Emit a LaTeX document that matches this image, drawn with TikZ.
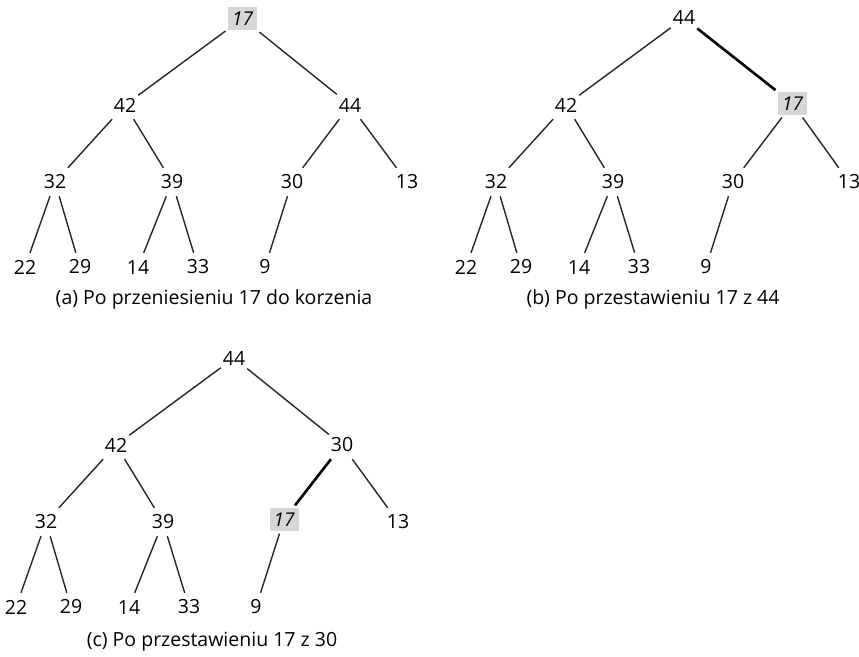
\documentclass[tikz,border=0pt]{standalone}
\usepackage{fontspec}
\setmainfont{Open Sans}
\begin{document}
\begin{tikzpicture}[x=1pt,y=-1pt,
  every node/.style={font=\fontsize{19.5}{23}\selectfont},
  nd/.style={inner sep=0pt, minimum width=26pt, minimum height=28pt},
  hl/.style={inner sep=0pt, minimum width=29pt, minimum height=23pt, fill=black!16, outer sep=2.5pt, font=\fontsize{19}{23}\selectfont\itshape},
  edge/.style={line width=1.4pt, black!85},
  hot/.style={line width=2.6pt, black},
  captxt/.style={inner sep=0pt}]
\useasboundingbox (0,0) rectangle (859,656);
\clip (0,0) rectangle (859,656);
% ---------- tree (a)
\begin{scope}
\node[hl] (ar) at (242.5,18.5) {17};
\node[nd] (aL) at (125,105) {42};
\node[nd] (aR) at (350,105) {44};
\node[nd] (aLL) at (55,182) {32};
\node[nd] (aLR) at (172,182) {39};
\node[nd] (aRL) at (292,182) {30};
\node[nd] (aRR) at (407,182) {13};
\node[nd] (aLLL) at (25,267) {22};
\node[nd] (aLLR) at (80,267) {29};
\node[nd] (aLRL) at (138,267) {14};
\node[nd] (aLRR) at (198,267) {33};
\node[nd] (aRLL) at (265,267) {9};
\draw[edge] (ar) -- (aL); \draw[edge] (ar) -- (aR);
\draw[edge] (aL) -- (aLL); \draw[edge] (aL) -- (aLR);
\draw[edge] (aR) -- (aRL); \draw[edge] (aR) -- (aRR);
\draw[edge] (aLL) -- (aLLL); \draw[edge] (aLL) -- (aLLR);
\draw[edge] (aLR) -- (aLRL); \draw[edge] (aLR) -- (aLRR);
\draw[edge] (aRL) -- (aRLL);
\node[captxt] (acap) at (214,299) {(a) Po przeniesieniu 17 do korzenia};
\end{scope}
% ---------- tree (b)
\begin{scope}[shift={(441,0)}]
\node[nd] (br) at (243,18) {44};
\node[nd] (bL) at (125,105) {42};
\node[hl] (bR) at (351.5,103.5) {17};
\node[nd] (bLL) at (55,182) {32};
\node[nd] (bLR) at (172,182) {39};
\node[nd] (bRL) at (292,182) {30};
\node[nd] (bRR) at (408,182) {13};
\node[nd] (bLLL) at (25,267) {22};
\node[nd] (bLLR) at (80,267) {29};
\node[nd] (bLRL) at (138,267) {14};
\node[nd] (bLRR) at (198,267) {33};
\node[nd] (bRLL) at (265,267) {9};
\draw[edge] (br) -- (bL); \draw[hot] (br) -- (bR);
\draw[edge] (bL) -- (bLL); \draw[edge] (bL) -- (bLR);
\draw[edge] (bR) -- (bRL); \draw[edge] (bR) -- (bRR);
\draw[edge] (bLL) -- (bLLL); \draw[edge] (bLL) -- (bLLR);
\draw[edge] (bLR) -- (bLRL); \draw[edge] (bLR) -- (bLRR);
\draw[edge] (bRL) -- (bRLL);
\node[captxt] (bcap) at (212,299) {(b) Po przestawieniu 17 z 44};
\end{scope}
% ---------- tree (c)
\begin{scope}[shift={(-9,340)}]
\node[nd] (cr) at (243,18) {44};
\node[nd] (cL) at (125,105) {42};
\node[nd] (cR) at (351,105) {30};
\node[nd] (cLL) at (55,182) {32};
\node[nd] (cLR) at (172,182) {39};
\node[hl] (cRL) at (293,179.5) {17};
\node[nd] (cRR) at (407,182) {13};
\node[nd] (cLLL) at (25,267) {22};
\node[nd] (cLLR) at (80,267) {29};
\node[nd] (cLRL) at (138,267) {14};
\node[nd] (cLRR) at (198,267) {33};
\node[nd] (cRLL) at (265,267) {9};
\draw[edge] (cr) -- (cL); \draw[edge] (cr) -- (cR);
\draw[edge] (cL) -- (cLL); \draw[edge] (cL) -- (cLR);
\draw[hot] (cR) -- (cRL); \draw[edge] (cR) -- (cRR);
\draw[edge] (cLL) -- (cLLL); \draw[edge] (cLL) -- (cLLR);
\draw[edge] (cLR) -- (cLRL); \draw[edge] (cLR) -- (cLRR);
\draw[edge] (cRL) -- (cRLL);
\node[captxt] (ccap) at (221,302) {(c) Po przestawieniu 17 z 30};
\end{scope}
\end{tikzpicture}
\end{document}
